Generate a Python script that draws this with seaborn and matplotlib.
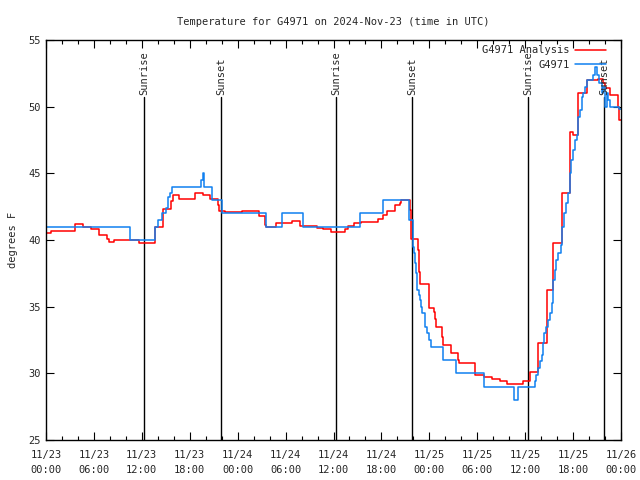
import numpy as np
import pandas as pd
import matplotlib
matplotlib.use('Agg')
import matplotlib.pyplot as plt
from matplotlib.ticker import MultipleLocator
import seaborn as sns

# Hours since 2024-11-23 00:00 UTC and temperatures (degrees F), step data
obs_hours = [0, 10.5, 13.7, 14.0, 14.5, 15.0, 15.3, 15.5, 15.8, 19.4, 19.6, 19.8,
             20.8, 22.1, 27.5, 29.5, 32.2, 39.3, 42.2, 45.5, 45.9, 46.0, 46.1,
             46.25, 46.3, 46.4, 46.5, 46.7, 46.8, 47.0, 47.1, 47.4, 47.5, 47.7,
             48.0, 48.2, 48.4, 49.75, 51.3, 54.8, 58.6, 59.1, 61.0, 61.2, 61.4,
             61.6, 61.9, 62.1, 62.2, 62.4, 62.6, 62.9, 63.1, 63.3, 63.45, 63.5,
             63.7, 63.9, 64.15, 64.45, 64.6, 64.8, 65.1, 65.4, 65.6, 65.8, 66.0,
             66.2, 66.45, 66.65, 66.9, 67.1, 67.3, 67.5, 67.7, 68.5, 68.75, 69.0,
             69.3, 69.6, 69.8, 70.0, 70.3, 70.4, 70.6, 71.7, 72.0]
obs_temp = [41, 40, 41, 41.5, 42, 42.4, 43.2, 43.5, 44, 44.5, 45, 44,
            43, 42, 41, 42, 41, 42, 43, 41.5, 40.25, 39.5, 39.0,
            38.25, 37.5, 36.75, 36.25, 35.9, 35.5, 35.0, 34.5, 34.0, 33.5, 33.0,
            32.5, 32, 32, 31, 30, 29, 28, 29, 29, 29.4, 29.9,
            30.4, 30.9, 31.4, 32.25, 33.0, 33.5, 34.0, 34.5, 35.25, 35.75, 37.0,
            37.75, 38.5, 39.0, 39.6, 41.0, 42.0, 42.75, 43.5, 45.0, 46.0, 46.75,
            47.5, 47.9, 49.25, 49.75, 50.75, 51.0, 51.5, 52.0, 52.4, 53.0, 52.4,
            51.75, 51.0, 51.5, 50.0, 51.0, 50.5, 50.0, 49.8, 49.8]

ana_hours = [0, 0.6, 3.6, 4.6, 5.6, 6.6, 7.7, 7.9, 8.55, 11.7, 13.7, 14.7, 15.65,
             15.9, 16.6, 17.8, 18.65, 19.7, 20.5, 21.5, 21.7, 22.4, 24.5, 26.7,
             27.4, 27.6, 28.8, 29.5, 30.8, 31.8, 33.9, 34.7, 35.7, 37.4, 37.8,
             38.6, 39.4, 41.6, 42.2, 42.7, 43.7, 44.3, 44.5, 45.6, 45.7, 46.6,
             46.7, 46.8, 47.9, 48.0, 48.6, 48.7, 48.8, 49.6, 49.75, 50.7, 51.6,
             51.75, 53.7, 54.8, 55.8, 56.8, 57.7, 59.7, 60.6, 61.65, 62.7, 63.5,
             64.6, 65.6, 66.0, 66.65, 67.8, 69.1, 69.6, 69.8, 70.0, 70.6, 71.6,
             71.75, 72.0]
ana_temp = [40.5, 40.7, 41.2, 40.95, 40.8, 40.4, 40.1, 39.87, 40.0, 39.8, 41.0, 42.3, 42.9,
            43.4, 43.05, 43.1, 43.5, 43.4, 43.05, 42.6, 42.2, 42.1, 42.2, 41.8,
            41.1, 40.95, 41.25, 41.3, 41.4, 41.05, 40.9, 40.8, 40.6, 40.8, 41.05,
            41.25, 41.35, 41.55, 41.9, 42.2, 42.6, 42.8, 43.0, 42.25, 40.1, 39.25,
            37.6, 36.7, 36.1, 34.9, 34.6, 34.1, 33.5, 32.75, 32.1, 31.55, 31.0,
            30.75, 29.9, 29.75, 29.6, 29.45, 29.2, 29.45, 30.1, 32.3, 36.25, 39.75,
            43.5, 48.1, 47.9, 51.0, 52.0, 52.1, 52.05, 51.75, 51.4, 50.9, 50.0,
            49.0, 49.0]

sun_hours = [12.27, 21.9, 36.3, 45.83, 60.36, 69.87]
sun_labels = ['Sunrise', 'Sunset', 'Sunrise', 'Sunset', 'Sunrise', 'Sunset']

tick_hours = list(range(0, 73, 6))
tick_labels = ['11/23\n00:00', '11/23\n06:00', '11/23\n12:00', '11/23\n18:00',
               '11/24\n00:00', '11/24\n06:00', '11/24\n12:00', '11/24\n18:00',
               '11/25\n00:00', '11/25\n06:00', '11/25\n12:00', '11/25\n18:00',
               '11/26\n00:00']

sns.set_style('ticks')
plt.rcParams['font.family'] = ['DejaVu Sans Mono']
plt.rcParams['font.size'] = 7

obs = pd.DataFrame({'hours': obs_hours, 'temp': obs_temp})
ana = pd.DataFrame({'hours': ana_hours, 'temp': ana_temp})

fig = plt.figure(figsize=(6.4, 4.8), dpi=100)
ax = fig.add_axes([46 / 640, 40 / 480, 575 / 640, 400 / 480])

# sunrise / sunset markers
for h, lab in zip(sun_hours, sun_labels):
    ax.plot([h, h], [25, 50.7], color='black', linewidth=1.0, zorder=1)
    ax.text(h, 50.9, lab, rotation=90, ha='center', va='bottom', fontsize=7.5)

sns.lineplot(data=ana, x='hours', y='temp', ax=ax, color='#ff0000', linewidth=1.1,
             drawstyle='steps-post', estimator=None, sort=False, label='G4971 Analysis')
sns.lineplot(data=obs, x='hours', y='temp', ax=ax, color='#1080f0', linewidth=1.1,
             drawstyle='steps-post', estimator=None, sort=False, label='G4971')

ax.set_xlim(0, 72)
ax.set_ylim(25, 55)
ax.set_xticks(tick_hours)
ax.set_xticklabels(tick_labels, fontsize=7.5, linespacing=1.6)
ax.xaxis.set_minor_locator(MultipleLocator(2))
ax.set_yticks(range(25, 56, 5))
ax.tick_params(axis='y', labelsize=7.5)
ax.tick_params(axis='x', which='major', pad=7)
ax.tick_params(which='both', direction='in', top=True, right=True, color='black')
ax.tick_params(which='major', length=6, width=0.8)
ax.tick_params(which='minor', length=3, width=0.8)
for s in ax.spines.values():
    s.set_linewidth(1.0)
    s.set_color('black')

ax.set_xlabel('')
ax.set_ylabel('degrees F', fontsize=7.5, labelpad=8)
ax.set_title('Temperature for G4971 on 2024-Nov-23 (time in UTC)', fontsize=7.5, pad=11)

leg = ax.legend(loc='upper right', bbox_to_anchor=(1 - 9 / 575, 1 + 1 / 400),
                frameon=False, markerfirst=False, fontsize=7.5,
                handlelength=3.0, labelspacing=0.45, borderaxespad=0.2, handletextpad=0.5)

fig.savefig('out.png', dpi=100)
